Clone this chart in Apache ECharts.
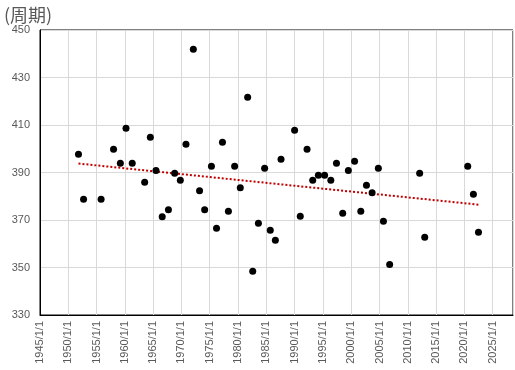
<!DOCTYPE html>
<html>
<head>
<meta charset="utf-8">
<script src="https://cdn.jsdelivr.net/npm/echarts@6/dist/echarts.min.js"></script>
<style>html,body{margin:0;padding:0;background:#fff}#c{width:515px;height:370px}</style>
</head>
<body>
<div id="c"></div>
<script>
// Years (fractional) of each observation
var years = [1951.8,1952.7,1955.8,1958.0,1959.2,1960.2,1961.3,1963.5,1964.5,1965.5,1966.6,1967.7,1968.8,1969.8,1970.8,1972.1,1973.2,1974.1,1975.3,1976.2,1977.25,1978.3,1979.4,1980.4,1981.7,1982.6,1983.6,1984.7,1985.7,1986.6,1987.6,1990.0,1991.0,1992.2,1993.2,1994.2,1995.3,1996.4,1997.4,1998.5,1999.5,2000.6,2001.7,2002.7,2003.7,2004.8,2005.7,2006.8,2012.1,2013.0,2020.6,2021.6,2022.5];
// Period values
var periods = [397.7,378.7,378.7,399.8,393.9,408.6,393.9,385.9,404.8,390.8,371.4,374.3,389.7,386.7,401.9,441.9,382.3,374.3,392.6,366.5,402.7,373.7,392.6,383.6,421.7,348.4,368.6,391.8,365.7,361.5,395.6,407.8,371.6,399.8,386.7,388.8,388.8,386.7,393.9,372.8,390.8,394.7,373.7,384.6,381.5,391.8,369.5,351.3,389.7,362.7,392.6,380.8,364.8];
var yTicks = [330,350,370,390,410,430,450];
var xTickYears = [1945,1950,1955,1960,1965,1970,1975,1980,1985,1990,1995,2000,2005,2010,2015,2020,2025];

var points = years.map(function(y,i){return [y, periods[i]];});
// Linear least-squares trend line over data range
var n = years.length, sx=0, sy=0, sxx=0, sxy=0;
for (var i=0;i<n;i++){sx+=years[i];sy+=periods[i];sxx+=years[i]*years[i];sxy+=years[i]*periods[i];}
var slope = (n*sxy-sx*sy)/(n*sxx-sx*sx);
var icpt = (sy-slope*sx)/n;
var xmin = Math.min.apply(null, years), xmax = Math.max.apply(null, years);
var trend = [[xmin, icpt+slope*xmin],[xmax, icpt+slope*xmax]];

var chart = echarts.init(document.getElementById('c'));
chart.setOption({
  animation:false,
  backgroundColor:'#fff',
  title:{text:'(周期)', left:-1, top:1, textStyle:{fontSize:18, fontWeight:'normal', color:'#595959', fontFamily:'Noto Sans CJK JP'}},
  grid:{left:40, right:2, top:30, bottom:55, show:true, borderColor:'#000', borderWidth:1, backgroundColor:'transparent'},
  xAxis:{type:'value', min:1945, max:2028.6, interval:5,
    axisLine:{show:true, lineStyle:{color:'#000', width:1}},
    axisTick:{show:false},
    splitLine:{show:true, lineStyle:{color:'#d9d9d9', width:1}},
    axisLabel:{rotate:90, color:'#595959', fontSize:11, fontFamily:'Liberation Sans', margin:6,
      formatter:function(v){return xTickYears.indexOf(v)>=0 ? v+'/1/1' : '';}, showMaxLabel:false}
  },
  yAxis:{type:'value', min:yTicks[0], max:yTicks[yTicks.length-1], interval:20,
    axisLine:{show:true, lineStyle:{color:'#000', width:1}},
    axisTick:{show:false},
    splitLine:{show:true, lineStyle:{color:'#d9d9d9', width:1}},
    axisLabel:{color:'#595959', fontSize:11, fontFamily:'Liberation Sans', margin:10}
  },
  series:[
    {type:'line', data:trend, symbol:'none', lineStyle:{color:'#C00000', width:2, type:'dotted'}, z:1},
    {type:'scatter', data:points, symbol:'circle', symbolSize:7, itemStyle:{color:'#000', opacity:1}, z:3}
  ]
});
</script>
</body>
</html>
